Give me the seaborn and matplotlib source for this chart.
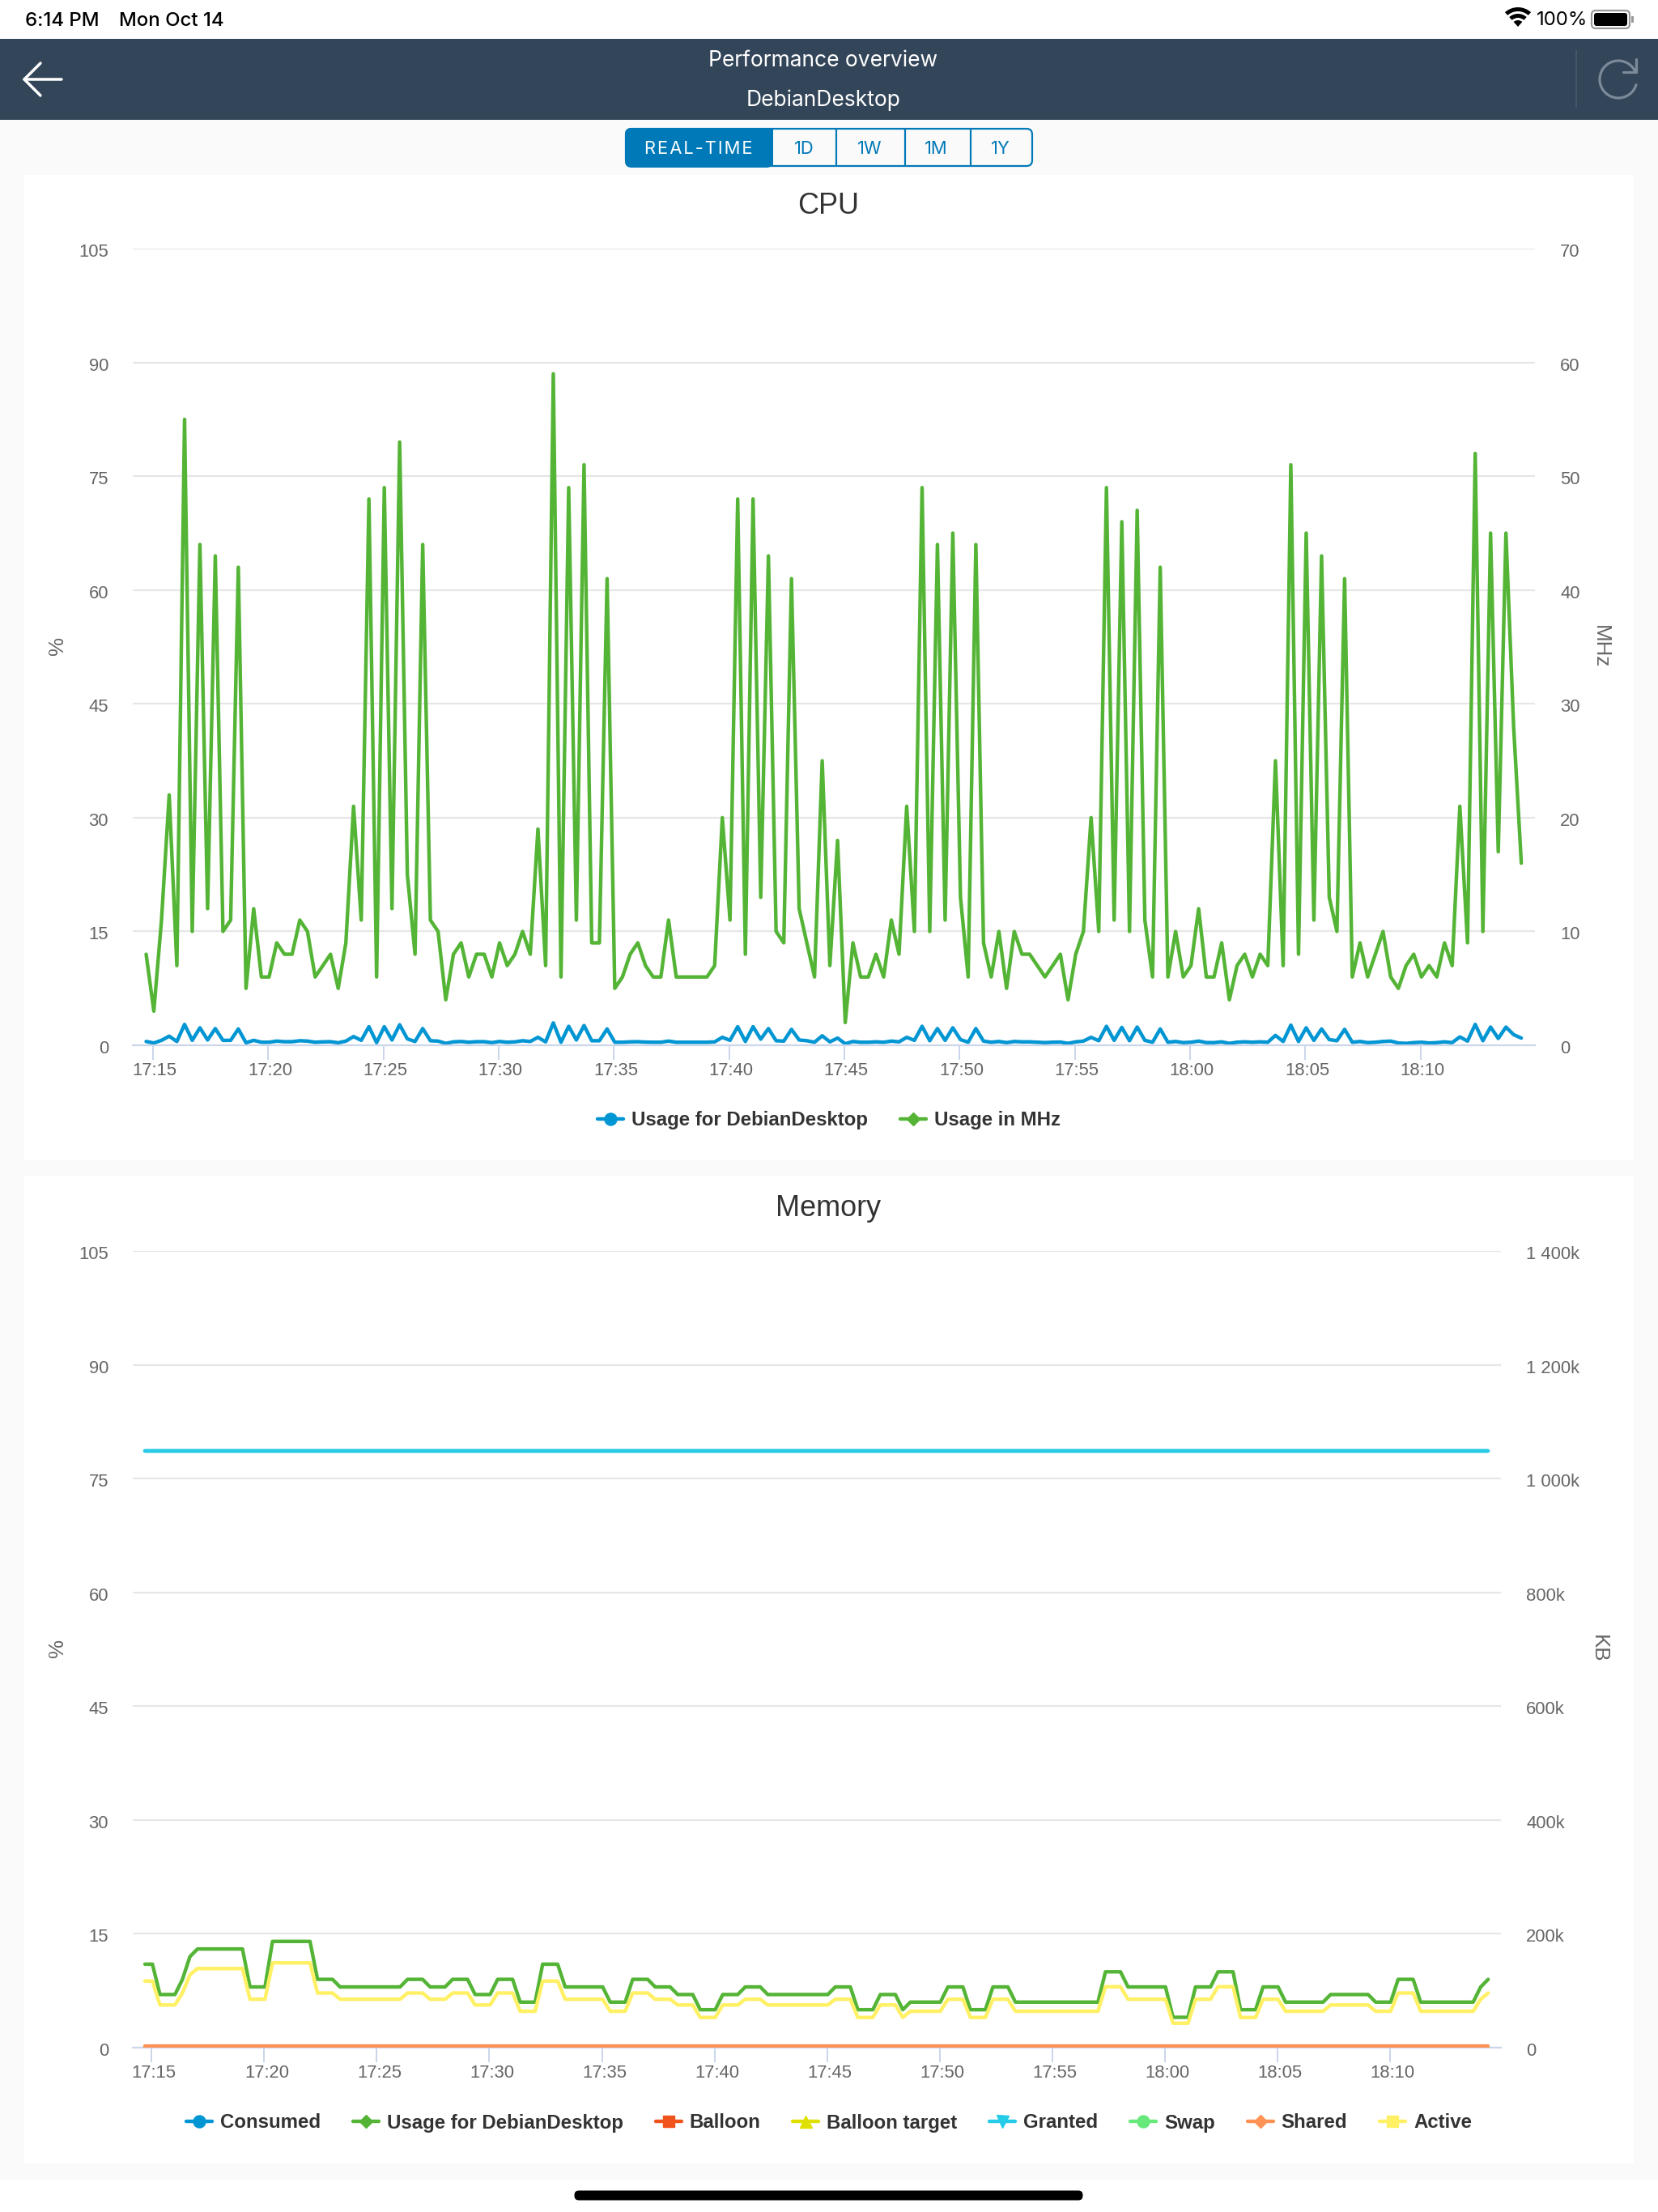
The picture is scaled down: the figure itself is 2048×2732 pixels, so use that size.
import numpy as np
import pandas as pd
import seaborn as sns
import matplotlib
matplotlib.use("Agg")
import matplotlib.pyplot as plt
import matplotlib.dates as mdates
from matplotlib.lines import Line2D
from matplotlib.patches import Rectangle, FancyBboxPatch, Wedge
from matplotlib.transforms import ScaledTranslation

W, H = 2048, 2732
DPI = 100

# Samples are 20 seconds apart
times = pd.date_range("2019-10-14 17:14:42", periods=180, freq="20s")

cpu_usage_pct = [
    .5, .3, .65, 1.2, .5, 2.75, .65, 2.3, .7, 2.2,
    .65, .65, 2.15, .33, .65, .4, .4, .55, .47, .47,
    .6, .55, .4, .45, .47, .33, .55, 1.15, .65, 2.45,
    .35, 2.45, .7, 2.7, .85, .5, 2.2, .6, .55, .25,
    .45, .5, .4, .47, .47, .35, .5, .4, .45, .6,
    .5, 1.05, .45, 2.95, .4, 2.5, .7, 2.6, .6, .6,
    2.15, .4, .4, .45, .47, .42, .4, .4, .55, .4,
    .4, .4, .4, .4, .45, 1.05, .65, 2.45, .5, 2.45,
    .8, 2.2, .6, .55, 2.1, .7, .6, .4, 1.25, .45,
    .95, .2, .5, .4, .4, .45, .4, .55, .45, 1.05,
    .65, 2.5, .6, 2.2, .65, 2.3, .75, .4, 2.2, .55,
    .4, .5, .35, .5, .45, .45, .4, .35, .4, .42,
    .25, .45, .55, 1.05, .6, 2.5, .65, 2.35, .6, 2.4,
    .65, .4, 2.15, .4, .5, .35, .4, .55, .35, .35,
    .45, .25, .4, .45, .4, .45, .4, 1.3, .5, 2.65,
    .5, 2.3, .65, 2.15, .75, .6, 2.1, .4, .5, .35,
    .4, .5, .55, .3, .25, .35, .4, .3, .35, .45,
    .35, 1.1, .55, 2.75, .6, 2.4, .9, 2.4, 1.4, .95,
]

cpu_usage_mhz = [
    8, 3, 11, 22, 7, 55, 10, 44, 12, 43,
    10, 11, 42, 5, 12, 6, 6, 9, 8, 8,
    11, 10, 6, 7, 8, 5, 9, 21, 11, 48,
    6, 49, 12, 53, 15, 8, 44, 11, 10, 4,
    8, 9, 6, 8, 8, 6, 9, 7, 8, 10,
    8, 19, 7, 59, 6, 49, 11, 51, 9, 9,
    41, 5, 6, 8, 9, 7, 6, 6, 11, 6,
    6, 6, 6, 6, 7, 20, 11, 48, 8, 48,
    13, 43, 10, 9, 41, 12, 9, 6, 25, 7,
    18, 2, 9, 6, 6, 8, 6, 11, 8, 21,
    10, 49, 10, 44, 11, 45, 13, 6, 44, 9,
    6, 10, 5, 10, 8, 8, 7, 6, 7, 8,
    4, 8, 10, 20, 10, 49, 11, 46, 10, 47,
    11, 6, 42, 6, 10, 6, 7, 12, 6, 6,
    9, 4, 7, 8, 6, 8, 7, 25, 7, 51,
    8, 45, 11, 43, 13, 10, 41, 6, 9, 6,
    8, 10, 6, 5, 7, 8, 6, 7, 6, 9,
    7, 21, 9, 52, 10, 45, 17, 45, 28, 16,
]

mem_usage_pct = [
    11, 11, 7, 7, 7, 9, 12, 13, 13, 13,
    13, 13, 13, 13, 8, 8, 8, 14, 14, 14,
    14, 14, 14, 9, 9, 9, 8, 8, 8, 8,
    8, 8, 8, 8, 8, 9, 9, 9, 8, 8,
    8, 9, 9, 9, 7, 7, 7, 9, 9, 9,
    6, 6, 6, 11, 11, 11, 8, 8, 8, 8,
    8, 8, 6, 6, 6, 9, 9, 9, 8, 8,
    8, 7, 7, 7, 5, 5, 5, 7, 7, 7,
    8, 8, 8, 7, 7, 7, 7, 7, 7, 7,
    7, 7, 8, 8, 8, 5, 5, 5, 7, 7,
    7, 5, 6, 6, 6, 6, 6, 8, 8, 8,
    5, 5, 5, 8, 8, 8, 6, 6, 6, 6,
    6, 6, 6, 6, 6, 6, 6, 6, 10, 10,
    10, 8, 8, 8, 8, 8, 8, 4, 4, 4,
    8, 8, 8, 10, 10, 10, 5, 5, 5, 8,
    8, 8, 6, 6, 6, 6, 6, 6, 7, 7,
    7, 7, 7, 7, 6, 6, 6, 9, 9, 9,
    6, 6, 6, 6, 6, 6, 6, 6, 8, 9,
]

# Memory amounts in thousands of KB
mem_active_k = [
    117, 117, 75, 75, 75, 96, 128, 139, 139, 139,
    139, 139, 139, 139, 85, 85, 85, 149, 149, 149,
    149, 149, 149, 96, 96, 96, 85, 85, 85, 85,
    85, 85, 85, 85, 85, 96, 96, 96, 85, 85,
    85, 96, 96, 96, 75, 75, 75, 96, 96, 96,
    64, 64, 64, 117, 117, 117, 85, 85, 85, 85,
    85, 85, 64, 64, 64, 96, 96, 96, 85, 85,
    85, 75, 75, 75, 53, 53, 53, 75, 75, 75,
    85, 85, 85, 75, 75, 75, 75, 75, 75, 75,
    75, 75, 85, 85, 85, 53, 53, 53, 75, 75,
    75, 53, 64, 64, 64, 64, 64, 85, 85, 85,
    53, 53, 53, 85, 85, 85, 64, 64, 64, 64,
    64, 64, 64, 64, 64, 64, 64, 64, 107, 107,
    107, 85, 85, 85, 85, 85, 85, 43, 43, 43,
    85, 85, 85, 107, 107, 107, 53, 53, 53, 85,
    85, 85, 64, 64, 64, 64, 64, 64, 75, 75,
    75, 75, 75, 75, 64, 64, 64, 96, 96, 96,
    64, 64, 64, 64, 64, 64, 64, 64, 85, 96,
]
mem_consumed_k = [1048.6] * 180
mem_granted_k = [1048.6] * 180
mem_balloon_k = [0] * 180
mem_balloon_target_k = [0] * 180
mem_swap_k = [0] * 180
mem_shared_k = [2.8] * 180

pct_ticks = [0, 15, 30, 45, 60, 75, 90, 105]
mhz_ticks = [0, 10, 20, 30, 40, 50, 60, 70]
kb_ticks = [0, 200, 400, 600, 800, 1000, 1200, 1400]
kb_tick_labels = ["0", "200k", "400k", "600k", "800k", "1 000k", "1 200k", "1 400k"]

BLUE = "#0095D3"
GREEN = "#54B435"
ORANGE_RED = "#F0541C"
LIME = "#DFE000"
CYAN = "#25CCE8"
MINT = "#66E87A"
ORANGE = "#FF9254"
YELLOW = "#FFF064"
NAVY = "#324559"
BTN = "#0079B8"
GRID = "#E6E6E6"
AXIS = "#CCD6EB"
TICK_TEXT = "#666666"
LEGEND_TEXT = "#333333"

sns.set_theme(style="white")
plt.rcParams["font.family"] = ["Liberation Sans", "DejaVu Sans"]

px = 72 / DPI  # points per output pixel
fig = plt.figure(figsize=(W / DPI, H / DPI), dpi=DPI, facecolor="white")


def pixel_axes(left, top, right, bottom):
    return fig.add_axes([left / W, 1 - bottom / H, (right - left) / W, (bottom - top) / H])


# Application chrome, laid out in pixels
bg = pixel_axes(0, 0, W, H)
bg.set_xlim(0, W)
bg.set_ylim(H, 0)
bg.axis("off")
bg.set_zorder(-1)

bg.add_patch(Rectangle((0, 48), W, H - 48 - 40, fc="#FAFAFA", ec="none"))
bg.add_patch(Rectangle((0, 48), W, 100, fc=NAVY, ec="none"))
bg.add_patch(Rectangle((30, 216), 1988, 1433 - 216, fc="white", ec="none"))
bg.add_patch(Rectangle((30, 1453), 1988, 2672 - 1453, fc="white", ec="none"))
bg.add_patch(FancyBboxPatch((709 + 6, 2706 + 5), 629 - 12, 1,
                            boxstyle="round,pad=5.5,rounding_size=5.5", fc="black", ec="none"))

# Status bar
status = dict(family="Inter", fontsize=24 * px, color="black", va="center", fontweight="medium")
bg.text(31, 25.5, "6:14 PM", ha="left", **status)
bg.text(147, 25.5, "Mon Oct 14", ha="left", **status)
bg.text(1898, 25, "100%", ha="left", **{**status, "fontweight": "normal"})
bg.add_patch(Wedge((1875, 33), 24, -132, -48, width=5, fc="black", ec="none"))
bg.add_patch(Wedge((1875, 33), 16, -132, -48, width=5, fc="black", ec="none"))
bg.add_patch(Wedge((1875, 33), 8, -132, -48, fc="black", ec="none"))
bg.add_patch(FancyBboxPatch((1968, 15), 43, 18, boxstyle="round,pad=2,rounding_size=5",
                            fc="white", ec="#999999", lw=1.6))
bg.add_patch(FancyBboxPatch((1970, 17), 39, 14, boxstyle="round,pad=1,rounding_size=3",
                            fc="black", ec="none"))
bg.add_patch(Rectangle((2015, 20), 2.5, 8, fc="#999999", ec="none"))

# Navigation bar
head = dict(family="Inter", fontsize=26.4 * px, color="white", ha="center", va="center")
bg.text(1017, 75, "Performance overview", **head)
bg.text(1017, 124, "DebianDesktop", **head)
bg.plot([30, 76], [98, 98], color="white", lw=3.5 * px)
bg.plot([50, 30, 50], [78, 98, 118], color="white", lw=3.5 * px)
bg.plot([1947, 1947], [62, 133], color="#4A5B6E", lw=1.6 * px)
theta = np.radians(np.linspace(17, 333, 80))
ICON = "#7C8A99"
bg.plot(1999 + 23 * np.cos(theta), 98 + 23 * np.sin(theta), color=ICON, lw=3.2 * px)
bg.plot([2021, 2021, 2005], [73, 89, 89], color=ICON, lw=3.2 * px)

# Range selector
bg.add_patch(FancyBboxPatch((773, 159), 502, 46, boxstyle="round,pad=0,rounding_size=7",
                            fc="#FAFAFA", ec=BTN, lw=2.2 * px))
bg.add_patch(FancyBboxPatch((772, 158), 183, 49, boxstyle="round,pad=0,rounding_size=8",
                            fc=BTN, ec="none"))
bg.add_patch(Rectangle((900, 158), 55, 48, fc=BTN, ec="none"))
for sep_x in [1033, 1118, 1199]:
    bg.plot([sep_x, sep_x], [159, 205], color=BTN, lw=2.2 * px)
btn = dict(family="Inter", fontsize=22 * px, ha="center", va="center")
bg.text(863, 183.5, "\u200a".join("REAL-TIME"), color="white", **btn)
for x_c, label in zip([993, 1074, 1156.5, 1236], ["1D", "1W", "1M", "1Y"]):
    bg.text(x_c, 183.5, label, color=BTN, **btn)

# Section titles and axis names
title = dict(fontsize=36 * px, color="#333333", ha="center", va="center")
bg.text(1023, 254, "CPU", **title)
bg.text(1023, 1493, "Memory", **title)
name = dict(fontsize=26 * px, color=TICK_TEXT, ha="center", va="center")
bg.text(71, 799, "%", rotation=90, **name)
bg.text(1977, 799, "MHz", rotation=270, **name)
bg.text(71, 2036, "%", rotation=90, **name)
bg.text(1975, 2036, "KB", rotation=270, **name)


def draw_line(ax, values, color, width=4.4):
    sns.lineplot(x=times, y=values, ax=ax, color=color, linewidth=width * px,
                 estimator=None, errorbar=None, legend=False,
                 solid_joinstyle="round", solid_capstyle="round")


def style_panel(ax, ax2, xlim, left_pad, right_pad, label_dx):
    for axis_ax in (ax, ax2):
        axis_ax.set_facecolor("none")
        axis_ax.set_xlim(*xlim)
        axis_ax.set_xlabel("")
        axis_ax.set_ylabel("")
        for side in ("left", "right", "top", "bottom"):
            axis_ax.spines[side].set_visible(False)
    ax.spines["bottom"].set_visible(True)
    ax.spines["bottom"].set_color(AXIS)
    ax.spines["bottom"].set_linewidth(2.2 * px)
    ax.set_yticks(pct_ticks)
    ax.set_ylim(0, 105)
    ax.grid(axis="y", color=GRID, linewidth=2.2 * px)
    ax.grid(axis="x", visible=False)
    ax.set_axisbelow(True)
    ax.xaxis.set_major_locator(mdates.MinuteLocator(byminute=range(0, 60, 5)))
    ax.xaxis.set_major_formatter(mdates.DateFormatter("%H:%M"))
    ax.tick_params(axis="x", bottom=True, length=18 * px, width=2 * px, color=AXIS,
                   labelsize=22 * px, labelcolor=TICK_TEXT, pad=3 * px)
    ax.tick_params(axis="y", left=False, length=0, labelsize=22 * px,
                   labelcolor=TICK_TEXT, pad=left_pad * px)
    ax2.grid(False)
    ax2.tick_params(axis="y", right=False, length=0, labelsize=22 * px,
                    labelcolor=TICK_TEXT, pad=right_pad * px)
    ax2.tick_params(axis="x", bottom=False, labelbottom=False)
    # Highcharts sets value labels a little under their grid lines
    shift = ScaledTranslation(0, -2 / DPI, fig.dpi_scale_trans)
    for label in ax.get_yticklabels() + ax2.get_yticklabels():
        label.set_transform(label.get_transform() + shift)
    # and time labels slightly right of their tick marks
    nudge = ScaledTranslation(label_dx / DPI, 0, fig.dpi_scale_trans)
    for label in ax.get_xticklabels():
        label.set_transform(label.get_transform() + nudge)


def seconds_from_start(sec):
    return times[0] + pd.Timedelta(seconds=sec)


# CPU panel
cpu_ax = pixel_axes(164, 307, 1896, 1291)
cpu_ax2 = cpu_ax.twinx()
draw_line(cpu_ax, cpu_usage_pct, BLUE)
draw_line(cpu_ax2, cpu_usage_mhz, GREEN)
cpu_ax2.set_ylim(0, 70)
cpu_ax2.set_yticks(mhz_ticks)
style_panel(cpu_ax, cpu_ax2, (seconds_from_start(-34.8), seconds_from_start(3615.5)), 30, 31, 2)

# Memory panel
mem_ax = pixel_axes(164, 1545, 1854, 2529)
mem_ax2 = mem_ax.twinx()
draw_line(mem_ax2, mem_consumed_k, BLUE)
draw_line(mem_ax, mem_usage_pct, GREEN)
draw_line(mem_ax2, mem_balloon_k, ORANGE_RED)
draw_line(mem_ax2, mem_balloon_target_k, LIME)
draw_line(mem_ax2, mem_granted_k, CYAN)
draw_line(mem_ax2, mem_swap_k, MINT)
draw_line(mem_ax2, mem_shared_k, ORANGE)
draw_line(mem_ax2, mem_active_k, YELLOW)
mem_ax2.set_ylim(0, 1400)
mem_ax2.set_yticks(kb_ticks)
mem_ax2.set_yticklabels(kb_tick_labels)
style_panel(mem_ax, mem_ax2, (seconds_from_start(-32.4), seconds_from_start(3614)), 30, 31, 3)


def add_legend(entries, center_y, center_x):
    handles = [
        Line2D([], [], color=color, marker=marker, markersize=size * px, linewidth=4.4 * px,
               markeredgecolor=color, label=text)
        for text, color, marker, size in entries
    ]
    legend = fig.legend(handles=handles, ncol=len(handles), loc="center",
                        bbox_to_anchor=(center_x / W, 1 - center_y / H),
                        frameon=False, handlelength=32 / 24,
                        handletextpad=10 / 24, columnspacing=39.8 / 24, borderpad=0,
                        borderaxespad=0, prop={"weight": "bold", "size": 24 * px})
    for text in legend.get_texts():
        text.set_color(LEGEND_TEXT)


add_legend([("Usage for DebianDesktop", BLUE, "o", 15),
            ("Usage in MHz", GREEN, "D", 11)], 1383.5, 1024)
add_legend([("Consumed", BLUE, "o", 15),
            ("Usage for DebianDesktop", GREEN, "D", 11),
            ("Balloon", ORANGE_RED, "s", 14),
            ("Balloon target", LIME, "^", 15),
            ("Granted", CYAN, "v", 15),
            ("Swap", MINT, "o", 15),
            ("Shared", ORANGE, "D", 11),
            ("Active", YELLOW, "s", 14)], 2622, 1024)

fig.savefig("out.png", dpi=DPI, facecolor="white")
